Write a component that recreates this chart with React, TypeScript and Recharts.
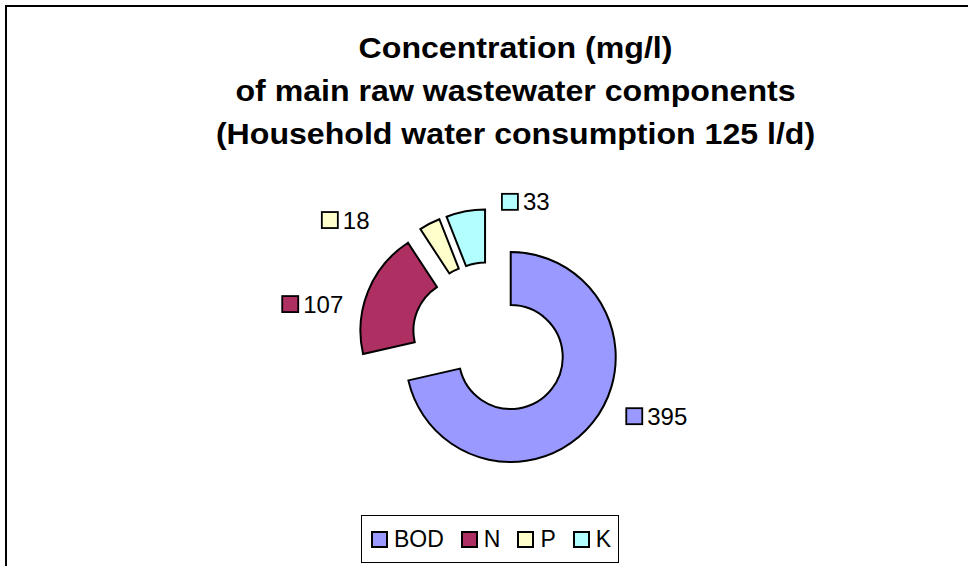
import React from 'react';
import { PieChart, Pie, Cell } from 'recharts';

// ---- data ----
const categories = ['BOD', 'N', 'P', 'K'];
const concentrations = [395, 107, 18, 33];
const titleLines = [
  'Concentration (mg/l)',
  'of main raw wastewater components',
  '(Household water consumption 125 l/d)',
];

// ---- style / layout ----
const COLORS = ['#9999FF', '#AE3063', '#FFFFCC', '#B3FFFF'];
const FONT = '"Liberation Sans", Arial, Helvetica, sans-serif';
const CENTER_X = 490;
const CENTER_Y = 340.5;
const EXPLODE = 26.5;
const OUTER = 105;
const INNER = 52;
const START_ANGLE = 90;
const END_ANGLE = -270;
const LABEL_GAP = 30;
const LABEL_NUDGE: [number, number][] = [
  [10, -25],
  [-58, 24],
  [-94, 23],
  [42, 20],
];

const data = categories.map((name, i) => ({ name, value: concentrations[i] }));
const RAD = Math.PI / 180;
const total = concentrations.reduce((a, b) => a + b, 0);

const midAngles = concentrations.map((v, i) => {
  const before = concentrations.slice(0, i).reduce((a, b) => a + b, 0);
  return START_ANGLE + ((END_ANGLE - START_ANGLE) * (before + v / 2)) / total;
});

const makeLabel = (slice: number) => (props: any) => {
  if (props.index !== slice) return null;
  const { cx, cy, midAngle, outerRadius, value } = props;
  const r = outerRadius + LABEL_GAP;
  const x = cx + r * Math.cos(-midAngle * RAD) + LABEL_NUDGE[slice][0];
  const y = cy + r * Math.sin(-midAngle * RAD) + LABEL_NUDGE[slice][1];
  return (
    <g>
      <rect
        x={x}
        y={y - 8}
        width={16}
        height={16}
        fill={COLORS[slice]}
        stroke="#000"
        strokeWidth={1.8}
      />
      <text
        x={x + 21}
        y={y}
        dominantBaseline="central"
        fontSize={24}
        fontFamily={FONT}
        fill="#000"
      >
        {value}
      </text>
    </g>
  );
};

export default function App() {
  return (
    <div
      style={{
        position: 'absolute',
        left: 0,
        top: 0,
        width: 968,
        height: 566,
        overflow: 'hidden',
        background: '#fff',
        fontFamily: FONT,
      }}
    >
      <div
        style={{
          position: 'absolute',
          left: 5,
          top: 5,
          width: 2000,
          height: 2000,
          border: '2px solid #000',
          boxSizing: 'border-box',
        }}
      />
      <div
        style={{
          position: 'absolute',
          left: 0,
          top: 26,
          width: 1031,
          textAlign: 'center',
          fontSize: 30,
          fontWeight: 'bold',
          lineHeight: '43px',
          color: '#000',
          transform: 'scaleX(1.07)',
          transformOrigin: '515px 0',
        }}
      >
        {titleLines.map((t) => (
          <div key={t}>{t}</div>
        ))}
      </div>
      <div style={{ position: 'absolute', left: 0, top: 0 }}>
        <PieChart width={968} height={566} margin={{ top: 0, right: 0, bottom: 0, left: 0 }}>
          {categories.map((cat, s) => (
            <Pie
              key={cat}
              data={data}
              dataKey="value"
              nameKey="name"
              cx={CENTER_X + EXPLODE * Math.cos(midAngles[s] * RAD)}
              cy={CENTER_Y - EXPLODE * Math.sin(midAngles[s] * RAD)}
              innerRadius={INNER}
              outerRadius={OUTER}
              startAngle={START_ANGLE}
              endAngle={END_ANGLE}
              paddingAngle={0}
              isAnimationActive={false}
              label={makeLabel(s)}
              labelLine={false}
            >
              {data.map((d, i) => (
                <Cell
                  key={d.name}
                  fill={i === s ? COLORS[i] : 'none'}
                  stroke={i === s ? '#000' : 'none'}
                  strokeWidth={i === s ? 2 : 0}
                />
              ))}
            </Pie>
          ))}
        </PieChart>
      </div>
      <div
        style={{
          position: 'absolute',
          left: 361,
          top: 515,
          width: 258,
          height: 48,
          border: '1px solid #000',
          boxSizing: 'border-box',
          display: 'flex',
          alignItems: 'center',
          paddingLeft: 9,
          fontSize: 23,
          color: '#000',
        }}
      >
        {categories.map((c, i) => (
          <div
            key={c}
            style={{ display: 'flex', alignItems: 'center', marginRight: 17 }}
          >
            <div
              style={{
                width: 17,
                height: 17,
                background: COLORS[i],
                border: '2px solid #000',
                boxSizing: 'border-box',
                marginRight: 6,
              }}
            />
            <span>{c}</span>
          </div>
        ))}
      </div>
    </div>
  );
}
